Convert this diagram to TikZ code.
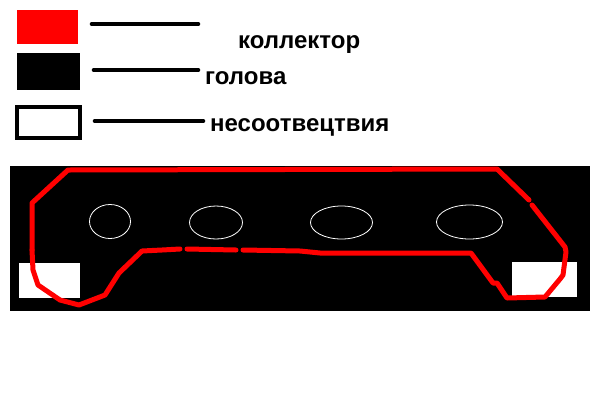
\documentclass[tikz,border=0pt]{standalone}
\usepackage{fontspec}
\setmainfont{Liberation Sans}
\tikzset{
    legendline/.style={line width=4.6pt,line cap=round},
    legendtext/.style={anchor=base west,inner sep=0pt,font=\fontsize{24}{24}\selectfont\bfseries},
    hole/.style={draw=white,line width=0.8pt},
    patch/.style={fill=white},
    collector/.style={draw=red,line width=5pt,line join=round,line cap=round}
}
\begin{document}
\begin{tikzpicture}[x=1pt,y=-1pt]
            \useasboundingbox (0,0) rectangle (600,400);
            \fill[white] (0,0) rectangle (600,400);

            \fill[red] (17,10) rectangle (78,44);
            \fill[black] (17,53) rectangle (80,90);
            \draw[line width=4pt,fill=white] (17,107) rectangle (80,138);

            \coordinate (l1a) at (92,24);
            \coordinate (l1b) at (198,24);
            \coordinate (l2a) at (94,70);
            \coordinate (l2b) at (198,70);
            \coordinate (l3a) at (95,121);
            \coordinate (l3b) at (203,121);
            \draw[legendline] (l1a) -- (l1b);
            \draw[legendline] (l2a) -- (l2b);
            \draw[legendline] (l3a) -- (l3b);
            \node[legendtext] (kollektor) at (238,48) {коллектор};
            \node[legendtext] (golova) at (205,84) {голова};
            \node[legendtext] (nesoot) at (210,131) {несоотвецтвия};

            \fill[black] (10,166) rectangle (590,311);
            \fill[patch] (19,263) rectangle (80,298);
            \fill[patch] (512,262) rectangle (577,297);

            \draw[hole] (110,221.5) ellipse (20.5 and 17);
            \draw[hole] (216,222.5) ellipse (26.5 and 16.5);
            \draw[hole] (341.5,222.5) ellipse (31 and 16.5);
            \draw[hole] (469.5,222) ellipse (33 and 17);

            \draw[collector] (32,250) -- (32,203) -- (68,170) -- (497,169) -- (529,200);
            \draw[collector] (532,205) -- (565,247) -- (566,252) -- (563,275) -- (560,279) -- (545,297) -- (507,298) -- (497,283) -- (493,283) -- (471,253) -- (395,253) -- (320,253) -- (300,251) -- (243,250);
            \draw[collector] (236,250) -- (187,249);
            \draw[collector] (180,249) -- (162,250) -- (142,251) -- (119,273) -- (105,295) -- (79,305) -- (60,300) -- (38,285) -- (33,270) -- (32,250);
        \end{tikzpicture}
\end{document}
